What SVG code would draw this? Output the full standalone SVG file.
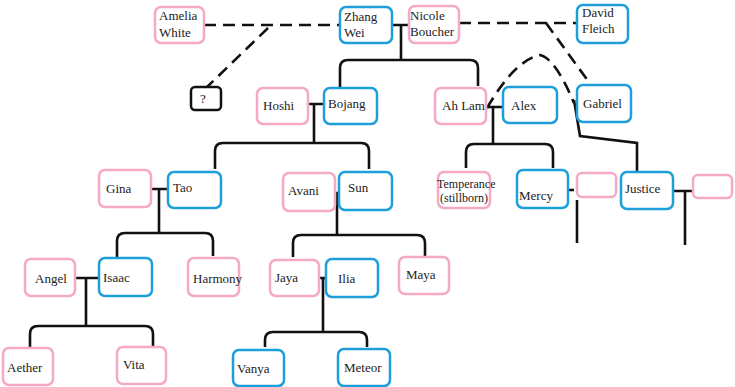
<svg xmlns="http://www.w3.org/2000/svg" width="735" height="387" viewBox="0 0 735 387">
<style>
.p{fill:#fff;stroke:#f4a9c6;stroke-width:2.5}
.b{fill:#fff;stroke:#1e9fdc;stroke-width:2.5}
.k{fill:#fff;stroke:#111;stroke-width:2.5}
text{font-family:"Liberation Serif","DejaVu Serif",serif;font-size:13px;fill:#222}
.s{font-size:12px}
.c path{fill:none;stroke:#111;stroke-width:2.6}
.c .d{stroke-dasharray:12 7}
</style>
<rect width="735" height="387" fill="#fff"/>
<g class="c" id="connectors">
<path class="d" d="M204 25H340"/>
<path class="d" d="M268 28L207 87"/>
<path class="d" d="M459 23H577"/>
<path class="d" d="M546 23L591 85"/>
<path class="d" d="M487 108Q515 60 540 55Q555 58 574 103"/>
<path d="M574 100L580 136L637 143V172"/>
<path d="M392 25H409M401 25V60M340 88V68Q340 60 348 60H470Q478 60 478 68V86"/>
<path d="M308 104H324M314 104V143M215 169V151Q215 143 223 143H361Q369 143 369 151V169"/>
<path d="M486 107H503M493 107V144M466 168V152Q466 144 474 144H545Q553 144 553 152V168"/>
<path d="M568 190H574M577 200V243"/>
<path d="M673 191H692M685 191V245"/>
<path d="M151 189H168M159 189V233M117 258V241Q117 233 125 233H205Q213 233 213 241V256"/>
<path d="M335 193H338M337 193V235M293 257V243Q293 235 301 235H417Q425 235 425 243V256"/>
<path d="M75 278H99M86 278V326M30 348V334Q30 326 38 326H145Q153 326 153 334V347"/>
<path d="M320 278H326M323 278V332M265 347V340Q265 332 273 332H359Q367 332 367 340V347"/>
</g>
<g id="amelia"><rect class="p" x="155" y="7" width="49" height="36" rx="6"/><text x="159" y="20">Amelia</text><text x="159" y="37">White</text></g>
<g id="zhang"><rect class="b" x="340" y="7" width="52" height="36" rx="6"/><text x="344" y="21">Zhang</text><text x="344" y="37">Wei</text></g>
<g id="nicole"><rect class="p" x="409" y="6" width="50" height="37" rx="6"/><text x="410" y="20">Nicole</text><text x="410" y="36">Boucher</text></g>
<g id="david"><rect class="b" x="577" y="5" width="51" height="38" rx="6"/><text x="582" y="17">David</text><text x="582" y="33">Fleich</text></g>
<g id="unknown"><rect class="k" x="191" y="87" width="30" height="23" rx="4"/><text x="200" y="103" font-size="11">?</text></g>
<g id="hoshi"><rect class="p" x="257" y="88" width="51" height="36" rx="6"/><text x="263" y="110">Hoshi</text></g>
<g id="bojang"><rect class="b" x="324" y="88" width="53" height="36" rx="6"/><text x="328" y="108">Bojang</text></g>
<g id="ahlam"><rect class="p" x="435" y="88" width="51" height="36" rx="6"/><text x="442" y="110">Ah Lam</text></g>
<g id="alex"><rect class="b" x="503" y="87" width="54" height="36" rx="6"/><text x="511" y="110">Alex</text></g>
<g id="gabriel"><rect class="b" x="577" y="85" width="54" height="37" rx="6"/><text x="583" y="108">Gabriel</text></g>
<g id="gina"><rect class="p" x="99" y="170" width="52" height="37" rx="6"/><text x="106" y="193">Gina</text></g>
<g id="tao"><rect class="b" x="168" y="172" width="53" height="36" rx="6"/><text x="173" y="192">Tao</text></g>
<g id="avani"><rect class="p" x="283" y="173" width="52" height="38" rx="6"/><text x="288" y="195">Avani</text></g>
<g id="sun"><rect class="b" x="339" y="172" width="53" height="38" rx="6"/><text x="348" y="192">Sun</text></g>
<g id="temperance"><rect class="p" x="438" y="172" width="52" height="36" rx="6"/><text class="s" x="437" y="187.5">Temperance</text><text class="s" x="440" y="202">(stillborn)</text></g>
<g id="mercy"><rect class="b" x="517" y="170" width="51" height="38" rx="6"/><text x="519" y="200">Mercy</text></g>
<g id="mercy-spouse"><rect class="p" x="577" y="173" width="39" height="24" rx="5"/></g>
<g id="justice"><rect class="b" x="621" y="172" width="52" height="37" rx="6"/><text x="625" y="193">Justice</text></g>
<g id="justice-spouse"><rect class="p" x="693" y="175" width="39" height="23" rx="5"/></g>
<g id="angel"><rect class="p" x="25" y="259" width="50" height="37" rx="6"/><text x="35" y="283">Angel</text></g>
<g id="isaac"><rect class="b" x="99" y="258" width="53" height="38" rx="6"/><text x="103" y="282">Isaac</text></g>
<g id="harmony"><rect class="p" x="188" y="258" width="51" height="38" rx="6"/><text x="193" y="283">Harmony</text></g>
<g id="jaya"><rect class="p" x="270" y="260" width="49" height="36" rx="6"/><text x="275" y="282">Jaya</text></g>
<g id="ilia"><rect class="b" x="326" y="259" width="52" height="38" rx="6"/><text x="338" y="283">Ilia</text></g>
<g id="maya"><rect class="p" x="399" y="257" width="50" height="37" rx="6"/><text x="406" y="279">Maya</text></g>
<g id="aether"><rect class="p" x="3" y="348" width="50" height="37" rx="6"/><text x="7" y="372">Aether</text></g>
<g id="vita"><rect class="p" x="117" y="347" width="49" height="37" rx="6"/><text x="123" y="369">Vita</text></g>
<g id="vanya"><rect class="b" x="233" y="350" width="51" height="36" rx="6"/><text x="237" y="373">Vanya</text></g>
<g id="meteor"><rect class="b" x="338" y="349" width="52" height="37" rx="6"/><text x="344" y="372">Meteor</text></g>
</svg>
